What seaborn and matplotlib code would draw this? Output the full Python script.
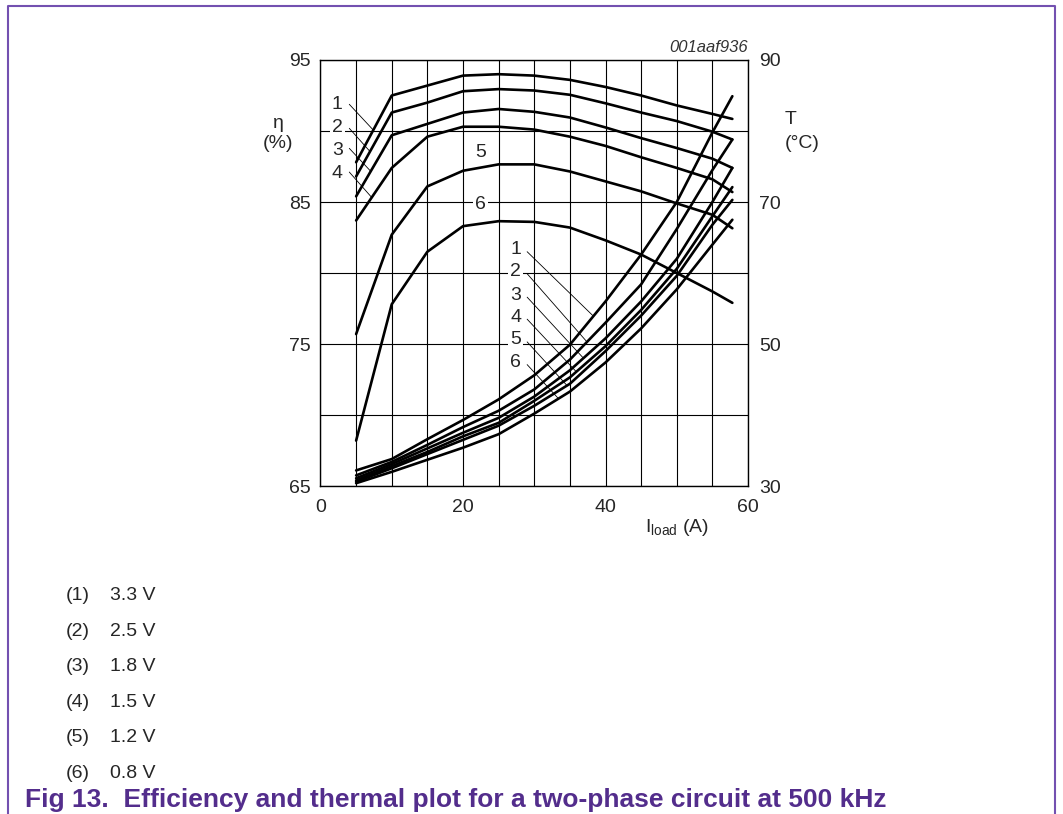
import numpy as np
import pandas as pd
import matplotlib
matplotlib.use('Agg')
import matplotlib.pyplot as plt
import seaborn as sns
from matplotlib.lines import Line2D

#Data-----------------------------------------------------------------------------------------------
load = [5, 10, 15, 20, 25, 30, 35, 40, 45, 50, 55, 57.8]  # I_load (A)

# efficiency (%) per output voltage
eff_1 = [87.8, 92.5, 93.2, 93.9, 94.0, 93.9, 93.6, 93.1, 92.5, 91.8, 91.2, 90.85]
eff_2 = [86.8, 91.3, 92.0, 92.8, 92.95, 92.85, 92.55, 91.95, 91.3, 90.7, 89.95, 89.4]
eff_3 = [85.4, 89.7, 90.5, 91.3, 91.55, 91.35, 90.95, 90.25, 89.5, 88.8, 88.05, 87.4]
eff_4 = [83.7, 87.4, 89.6, 90.3, 90.3, 90.1, 89.6, 88.95, 88.15, 87.4, 86.6, 85.7]
eff_5 = [75.7, 82.7, 86.1, 87.2, 87.65, 87.65, 87.15, 86.45, 85.75, 84.9, 84.1, 83.15]
eff_6 = [68.2, 77.8, 81.5, 83.3, 83.65, 83.6, 83.2, 82.3, 81.3, 80.0, 78.7, 77.9]

# temperature (degC) per output voltage
temp_1 = [32.2, 33.8, 36.6, 39.3, 42.2, 45.6, 49.9, 56.0, 62.6, 70.0, 79.8, 84.9]
temp_2 = [31.5, 33.4, 35.8, 38.3, 40.6, 43.6, 47.8, 53.0, 58.4, 66.2, 74.5, 78.8]
temp_3 = [31.1, 33.1, 35.3, 37.5, 39.6, 42.6, 46.3, 50.8, 56.0, 62.0, 70.0, 74.8]
temp_4 = [30.8, 32.8, 34.8, 37.0, 38.9, 42.0, 45.3, 49.7, 54.8, 60.6, 68.0, 72.1]
temp_5 = [30.6, 32.5, 34.5, 36.5, 38.5, 41.3, 44.4, 49.0, 54.0, 59.6, 66.8, 70.3]
temp_6 = [30.4, 32.0, 33.7, 35.4, 37.3, 40.2, 43.3, 47.4, 52.2, 57.7, 64.0, 67.5]

curve_names = ['1', '2', '3', '4', '5', '6']
volt_labels = ['3.3 V', '2.5 V', '1.8 V', '1.5 V', '1.2 V', '0.8 V']
effs = [eff_1, eff_2, eff_3, eff_4, eff_5, eff_6]
temps = [temp_1, temp_2, temp_3, temp_4, temp_5, temp_6]

eff_df = pd.DataFrame({'load': load * 6, 'eta': sum(effs, []),
                       'curve': np.repeat(curve_names, len(load))})
temp_df = pd.DataFrame({'load': load * 6, 'T': sum(temps, []),
                        'curve': np.repeat(curve_names, len(load))})

#Style-----------------------------------------------------------------------------------------------
sns.set_style('white')
plt.rcParams['font.family'] = ['Liberation Sans', 'DejaVu Sans']
plt.rcParams['mathtext.fontset'] = 'custom'
plt.rcParams['mathtext.rm'] = 'Liberation Sans'
FS = 14

fig = plt.figure(figsize=(10.63, 8.14), dpi=100)
ax = fig.add_axes([0.3015, 0.4029, 0.4022, 0.5234])

#Efficiency curves (left axis)
sns.lineplot(data=eff_df, x='load', y='eta', hue='curve', palette=['black'] * 6,
             legend=False, lw=1.9, estimator=None, sort=False, ax=ax)
ax.set_xlim(0, 60)
ax.set_ylim(65, 95)
ax.set_xticks([0, 20, 40, 60])
ax.set_xticks(np.arange(5, 60, 5), minor=True)
ax.set_yticks([65, 75, 85, 95])
ax.set_yticks([70, 80, 90], minor=True)
ax.grid(which='both', color='black', lw=0.8)
ax.tick_params(which='both', length=0, labelsize=FS)
ax.tick_params(axis='x', pad=9)
ax.tick_params(axis='y', pad=7)
ax.set_xlabel('')
ax.set_ylabel('')
for s in ax.spines.values():
    s.set_color('black')
    s.set_linewidth(1.0)

#Temperature curves (right axis)
ax2 = ax.twinx()
sns.lineplot(data=temp_df, x='load', y='T', hue='curve', palette=['black'] * 6,
             legend=False, lw=1.9, estimator=None, sort=False, ax=ax2)
ax2.set_ylim(30, 90)
ax2.set_yticks([30, 50, 70, 90])
ax2.tick_params(length=0, labelsize=FS, pad=8)
ax2.set_ylabel('')
ax2.grid(False)
for s in ax2.spines.values():
    s.set_visible(False)

#Curve labels with leader lines----------------------------------------------------------------------
white = dict(fc='white', ec='none', pad=1.5)
upper_lab_y = [91.9, 90.26, 88.66, 87.0]
upper_lead_y = [91.88, 90.19, 88.78, 87.11]
upper_lead_x = [7.41, 6.95, 7.05, 7.19]
for i in range(4):
    ax.text(2.36, upper_lab_y[i], curve_names[i], ha='center', va='center', fontsize=FS, bbox=white)
    ax.plot([4.04, upper_lead_x[i]], [upper_lead_y[i], np.interp(upper_lead_x[i], load, effs[i])],
            color='black', lw=0.6)
ax.text(22.5, 88.5, '5', ha='center', va='center', fontsize=FS, bbox=white)
ax.text(22.5, 84.8, '6', ha='center', va='center', fontsize=FS, bbox=white)

lower_lab_y = [63.3, 60.2, 56.9, 53.8, 50.6, 47.4]
lower_lead_x = [38.3, 37.4, 36.9, 35.9, 34.6, 33.4]
for i in range(6):
    ax2.text(27.4, lower_lab_y[i], curve_names[i], ha='center', va='center', fontsize=FS, bbox=white)
    ax2.plot([29.0, lower_lead_x[i]], [lower_lab_y[i] - 0.3, np.interp(lower_lead_x[i], load, temps[i])],
             color='black', lw=0.6)

#Axis titles and tags--------------------------------------------------------------------------------
W, H = 1063, 814
fig.text(278 / W, 1 - 124 / H, 'η', ha='center', va='center', fontsize=FS)
fig.text(278 / W, 1 - 143 / H, '(%)', ha='center', va='center', fontsize=FS)
fig.text(785 / W, 1 - 120 / H, 'T', ha='left', va='center', fontsize=FS)
fig.text(785 / W, 1 - 143 / H, '(°C)', ha='left', va='center', fontsize=FS)
fig.text(677 / W, 1 - 528 / H, r'I$_{\mathrm{load}}$ (A)', ha='center', va='center', fontsize=FS)
fig.text(748 / W, 1 - 47 / H, '001aaf936', ha='right', va='center', fontsize=12,
         style='italic', color='0.2')

#Key below the chart
for i in range(6):
    yy = 1 - (596 + i * 35.4) / H
    fig.text(66 / W, yy, '(%d)' % (i + 1), ha='left', va='center', fontsize=FS)
    fig.text(110 / W, yy, volt_labels[i], ha='left', va='center', fontsize=FS)

fig.text(25 / W, 1 - 800 / H, 'Fig 13.  Efficiency and thermal plot for a two-phase circuit at 500 kHz',
         ha='left', va='center', fontsize=19, weight='bold', color='#532d8c')

#Purple frame
frame_col = '#7350b0'
fig.add_artist(Line2D([8 / W, 8 / W, 1055 / W, 1055 / W], [0, 1 - 6 / H, 1 - 6 / H, 0],
                      transform=fig.transFigure, color=frame_col, lw=1.5))

fig.savefig('out.png', dpi=100)
